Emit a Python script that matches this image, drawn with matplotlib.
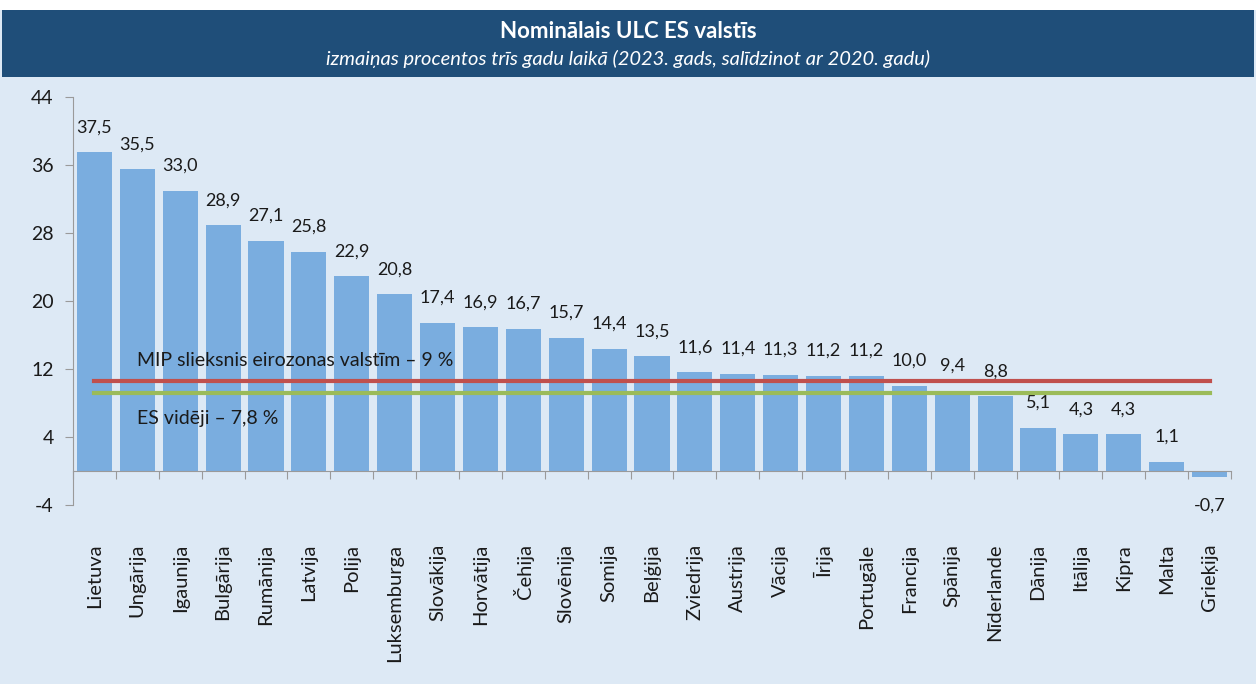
import matplotlib.pyplot as plt
from matplotlib.patches import Rectangle
import matplotlib.transforms as mtransforms

countries = ["Lietuva", "Ungārija", "Igaunija", "Bulgārija", "Rumānija", "Latvija",
             "Polija", "Luksemburga", "Slovākija", "Horvātija", "Čehija", "Slovēnija",
             "Somija", "Beļģija", "Zviedrija", "Austrija", "Vācija", "Īrija",
             "Portugāle", "Francija", "Spānija", "Nīderlande", "Dānija", "Itālija",
             "Kipra", "Malta", "Grieķija"]
ulc_change = [37.5, 35.5, 33.0, 28.9, 27.1, 25.8, 22.9, 20.8, 17.4, 16.9, 16.7, 15.7,
              14.4, 13.5, 11.6, 11.4, 11.3, 11.2, 11.2, 10.0, 9.4, 8.8, 5.1, 4.3,
              4.3, 1.1, -0.7]
mip_threshold = 9.0
eu_average = 7.8
yticks = [-4, 4, 12, 20, 28, 36, 44]

plt.rcParams['font.family'] = ['Lato', 'DejaVu Sans']

bg = "#dde9f5"
bar_color = "#7aaddf"
text_color = "#1a1a1a"

fig = plt.figure(figsize=(12.56, 6.84), dpi=100)
fig.patch.set_facecolor(bg)

# white strip on top and dark header bar
fig.add_artist(Rectangle((0, 1 - 10 / 684), 1, 10 / 684, transform=fig.transFigure,
                         facecolor="white", edgecolor="none", zorder=0))
fig.add_artist(Rectangle((2 / 1256, 1 - 77 / 684), 1252 / 1256, 67 / 684,
                         transform=fig.transFigure, facecolor="#1f4e79",
                         edgecolor="none", zorder=0))
fig.text(0.5, 1 - 31 / 684, "Nominālais ULC ES valstīs", ha="center", va="center",
         color="white", fontsize=16, fontweight="bold")
fig.text(0.5, 1 - 59 / 684,
         "izmaiņas procentos trīs gadu laikā (2023. gads, salīdzinot ar 2020. gadu)",
         ha="center", va="center", color="white", fontsize=14.5, style="italic")

rect = [73 / 1256, 1 - 505 / 684, (1231 - 73) / 1256, 408 / 684]
ax = fig.add_axes(rect)
ax.set_facecolor(bg)

x = list(range(len(countries)))
ax.bar(x, ulc_change, width=0.82, color=bar_color, zorder=2)

for xi, v in zip(x, ulc_change):
    label = f"{v:.1f}".replace(".", ",")
    off = 18 if v >= 0 else -21
    ax.annotate(label, (xi, v), xytext=(0, off), textcoords="offset points",
                ha="center", va="center", fontsize=13, color=text_color)

ax.set_xlim(-0.5, len(countries) - 0.5)
ax.set_ylim(-4, 44)
ax.set_yticks(yticks)
ax.set_yticklabels([str(t) for t in yticks], fontsize=14, color=text_color)

for s in ["top", "right"]:
    ax.spines[s].set_visible(False)
ax.spines["left"].set_color("#9a9a9a")
ax.spines["bottom"].set_color("#9a9a9a")
ax.spines["bottom"].set_position(("data", 0))
ax.spines["bottom"].set_zorder(3)
ax.tick_params(axis="y", colors="#9a9a9a", labelcolor=text_color, length=6, pad=8)
ax.set_xticks([i - 0.5 for i in range(len(countries) + 1)])
ax.set_xticklabels([])
ax.tick_params(axis="x", colors="#9a9a9a", length=6, direction="out")

trans = mtransforms.blended_transform_factory(ax.transData, ax.transAxes)
for xi, name in zip(x, countries):
    ax.text(xi, -0.095, name, transform=trans, rotation=90, ha="center", va="top",
            fontsize=14.5, color=text_color)

# reference lines on a hidden secondary scale (zero aligned with the bars)
ax2 = ax.twinx()
ax2.set_ylim(-4 / 1.175, 44 / 1.175)
ax2.axis("off")
ax2.plot([x[0], x[-1]], [mip_threshold, mip_threshold], color="#c0504d", lw=3)
ax2.plot([x[0], x[-1]], [eu_average, eu_average], color="#9bbb59", lw=3)
ax2.annotate("MIP slieksnis eirozonas valstīm – 9 %", (1.0, mip_threshold),
             xytext=(0, 15), textcoords="offset points", ha="left", va="center",
             fontsize=14, color=text_color)
ax2.annotate("ES vidēji – 7,8 %", (1.0, eu_average), xytext=(0, -18),
             textcoords="offset points", ha="left", va="center",
             fontsize=14, color=text_color)

fig.savefig("out.png", dpi=100, facecolor=fig.get_facecolor())
